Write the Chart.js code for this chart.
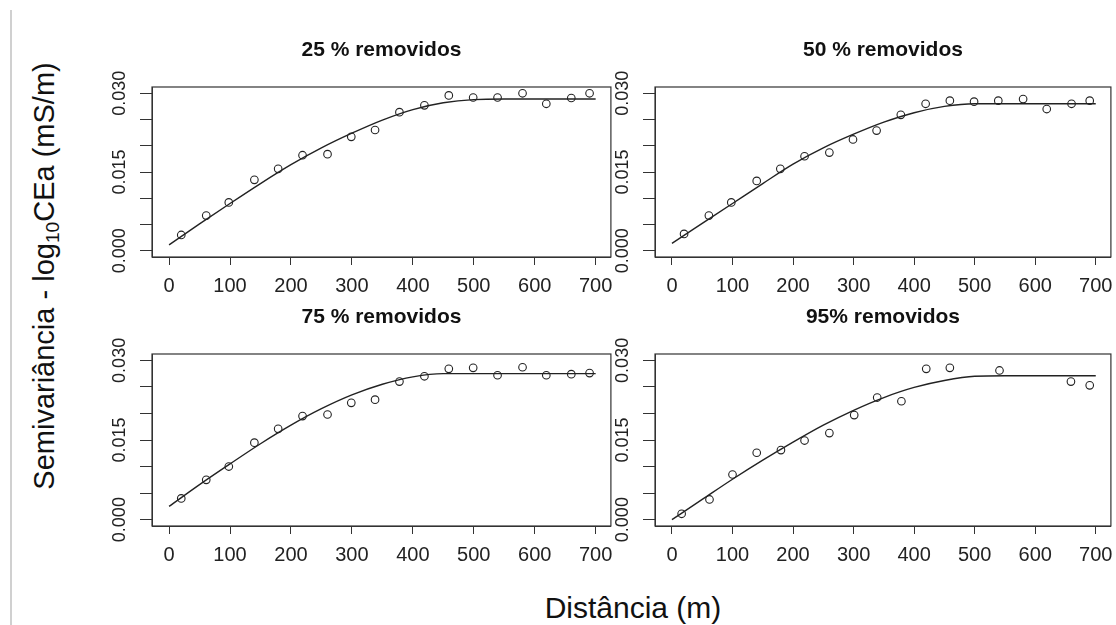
<!DOCTYPE html>
<html>
<head>
<meta charset="utf-8">
<script src="https://cdn.jsdelivr.net/npm/chart.js@4/dist/chart.umd.min.js"></script>
<style>
html, body { margin: 0; padding: 0; background: #fff; }
body { width: 1116px; height: 625px; position: relative; overflow: hidden; font-family: "Liberation Sans", Arial, sans-serif; color: #111; }
canvas { position: absolute; }
.edge { position: absolute; left: 10px; top: 10px; width: 2px; height: 615px; background: #d0d0d0; }
.ytitle { position: absolute; left: 44px; top: 276px; transform: translate(-50%, -50%) rotate(-90deg); font-size: 29px; line-height: 1; white-space: nowrap; }
.ytitle sub { font-size: 0.66em; vertical-align: -0.3em; line-height: 0; }
.xtitle { position: absolute; left: 633px; top: 608px; transform: translate(-50%, -50%); font-size: 30px; line-height: 1; white-space: nowrap; }
</style>
</head>
<body>
<div class="edge"></div>
<div class="ytitle">Semivariância - log<sub>10</sub>CEa (mS/m)</div>
<div class="xtitle">Distância (m)</div>
<canvas id="p25"></canvas>
<canvas id="p50"></canvas>
<canvas id="p75"></canvas>
<canvas id="p95"></canvas>
<script>
// lag distances (m) and experimental semivariances
const lagDist = [20, 61, 98, 140, 179, 219, 260, 299, 338, 378, 419, 459, 499, 539, 580, 619, 660, 690];
const semi25 = [0.0030, 0.0067, 0.0092, 0.0135, 0.0156, 0.0182, 0.0184, 0.0217, 0.0230, 0.0264, 0.0277, 0.0296, 0.0292, 0.0292, 0.0300, 0.0280, 0.0291, 0.0300];
const semi50 = [0.0032, 0.0067, 0.0092, 0.0133, 0.0156, 0.0180, 0.0187, 0.0212, 0.0229, 0.0259, 0.0280, 0.0286, 0.0284, 0.0286, 0.0289, 0.0270, 0.0280, 0.0286];
const semi75 = [0.0040, 0.0075, 0.0100, 0.0145, 0.0171, 0.0195, 0.0198, 0.0220, 0.0226, 0.0260, 0.0270, 0.0284, 0.0286, 0.0272, 0.0287, 0.0272, 0.0274, 0.0276];
const lagDist95 = [16, 62, 100, 140, 180, 219, 260, 301, 339, 379, 420, 459, 541, 659, 690];
const semi95 = [0.0011, 0.0038, 0.0085, 0.0126, 0.0131, 0.0149, 0.0163, 0.0197, 0.0230, 0.0223, 0.0284, 0.0286, 0.0281, 0.0260, 0.0253];

// fitted model curves
const fitDist = [0, 50, 100, 150, 200, 250, 300, 350, 400, 450, 500, 550, 600, 650, 700];
const fit25 = [0.0011, 0.0051, 0.0090, 0.0128, 0.0164, 0.0196, 0.0224, 0.0249, 0.0269, 0.0282, 0.0288, 0.0289, 0.0289, 0.0289, 0.0289];
const fit50 = [0.0014, 0.0052, 0.0090, 0.0128, 0.0165, 0.0196, 0.0222, 0.0245, 0.0263, 0.0275, 0.0280, 0.0280, 0.0280, 0.0280, 0.0280];
const fit75 = [0.0025, 0.0066, 0.0105, 0.0143, 0.0178, 0.0209, 0.0235, 0.0255, 0.0269, 0.0275, 0.0275, 0.0275, 0.0275, 0.0275, 0.0275];
const fit95 = [0.0000, 0.0038, 0.0076, 0.0112, 0.0146, 0.0178, 0.0206, 0.0230, 0.0249, 0.0262, 0.0270, 0.0271, 0.0271, 0.0271, 0.0271];

const panelTitles = ['25 % removidos', '50 % removidos', '75 % removidos', '95% removidos'];
const xTicks = [0, 100, 200, 300, 400, 500, 600, 700];
const yTicks = [0, 0.005, 0.010, 0.015, 0.020, 0.025, 0.030];
const yTickLabels = ['0.000', '', '', '0.015', '', '', '0.030'];

const FONT = '"Liberation Sans", Arial, sans-serif';
Chart.defaults.font.family = FONT;

// plot boxes on the page: left, top, right, bottom
const boxes = [
    [152, 87, 611, 257],
    [655, 87, 1111, 257],
    [152, 354, 611, 526],
    [655, 354, 1111, 526]
];
const AXIS_W = 60, TITLE_H = 60, XAXIS_H = 45, RIGHT_PAD = 5;

const framePlugin = {
    id: 'frame',
    afterDatasetsDraw: function (chart) {
        const a = chart.chartArea;
        const ctx = chart.ctx;
        ctx.save();
        ctx.strokeStyle = '#333';
        ctx.lineWidth = 1.2;
        ctx.strokeRect(a.left, a.top, a.right - a.left, a.bottom - a.top);
        ctx.restore();
    }
};

function makePanel(id, title, box, lags, semi, fit) {
    const canvas = document.getElementById(id);
    canvas.width = box[2] - box[0] + AXIS_W + RIGHT_PAD;
    canvas.height = box[3] - box[1] + TITLE_H + XAXIS_H;
    canvas.style.left = (box[0] - AXIS_W) + 'px';
    canvas.style.top = (box[1] - TITLE_H) + 'px';

    return new Chart(canvas.getContext('2d'), {
        type: 'scatter',
        data: {
            datasets: [
                {
                    data: fitDist.map((x, i) => ({ x: x, y: fit[i] })),
                    showLine: true,
                    cubicInterpolationMode: 'monotone',
                    borderColor: '#222',
                    borderWidth: 1.4,
                    pointRadius: 0
                },
                {
                    data: lags.map((x, i) => ({ x: x, y: semi[i] })),
                    pointStyle: 'circle',
                    pointRadius: 3.8,
                    borderColor: '#222',
                    borderWidth: 1.1,
                    backgroundColor: 'rgba(0,0,0,0)'
                }
            ]
        },
        options: {
            responsive: false,
            animation: false,
            events: [],
            layout: { padding: { left: 0, top: 0, bottom: 0, right: RIGHT_PAD } },
            plugins: {
                legend: { display: false },
                tooltip: { enabled: false },
                title: {
                    display: true,
                    text: title,
                    fullSize: false,
                    color: '#111',
                    font: { size: 21, weight: 'bold', family: FONT },
                    padding: { top: 11, bottom: 23.8 }
                }
            },
            scales: {
                x: {
                    type: 'linear',
                    min: -28,
                    max: 725,
                    afterBuildTicks: s => { s.ticks = xTicks.map(v => ({ value: v })); },
                    afterFit: s => { s.height = XAXIS_H; s.paddingLeft = 0; s.paddingRight = 0; },
                    grid: { drawOnChartArea: false, drawTicks: true, tickLength: 8, color: '#333', lineWidth: 1 },
                    border: { display: true, color: '#333' },
                    ticks: {
                        autoSkip: false, minRotation: 0, maxRotation: 0, padding: 9,
                        color: '#222', font: { size: 20, family: FONT },
                        callback: v => String(v)
                    }
                },
                y: {
                    type: 'linear',
                    min: -0.0012,
                    max: 0.0312,
                    afterBuildTicks: s => { s.ticks = yTicks.map(v => ({ value: v })); },
                    afterFit: s => { s.width = AXIS_W; s.paddingTop = 0; s.paddingBottom = 0; },
                    grid: { drawOnChartArea: false, drawTicks: true, tickLength: 12, color: '#333', lineWidth: 1 },
                    border: { display: true, color: '#333' },
                    ticks: {
                        autoSkip: false, minRotation: 90, maxRotation: 90, crossAlign: 'center', padding: -3,
                        color: '#222', font: { size: 18, family: FONT },
                        callback: (v, i) => yTickLabels[i]
                    }
                }
            }
        },
        plugins: [framePlugin]
    });
}

makePanel('p25', panelTitles[0], boxes[0], lagDist, semi25, fit25);
makePanel('p50', panelTitles[1], boxes[1], lagDist, semi50, fit50);
makePanel('p75', panelTitles[2], boxes[2], lagDist, semi75, fit75);
makePanel('p95', panelTitles[3], boxes[3], lagDist95, semi95, fit95);
</script>
</body>
</html>
